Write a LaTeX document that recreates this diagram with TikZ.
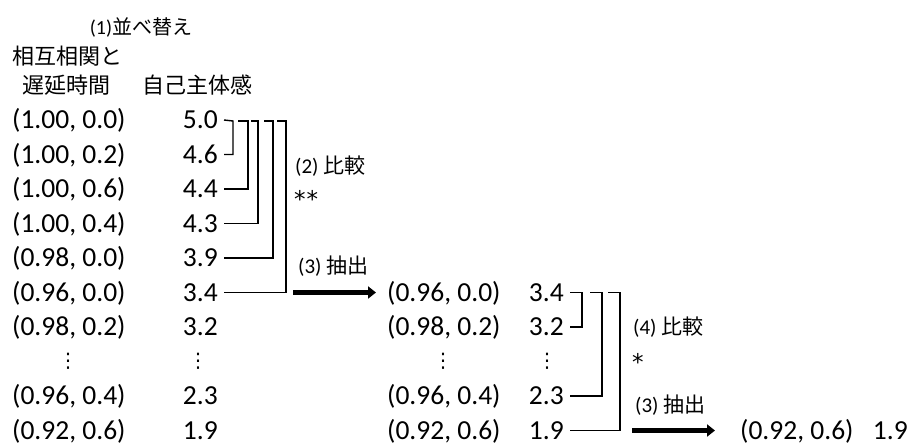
\documentclass[tikz,border=0pt]{standalone}
\usepackage{fontspec}
\setmainfont{Carlito}
\newfontfamily\jp{Noto Sans CJK JP}
\newfontfamily\dv{DejaVu Sans}
\usetikzlibrary{arrows.meta,calc}
\begin{document}
\begin{tikzpicture}[x=1pt,y=-1pt,
  num/.style={font=\fontsize{27.5}{30}\selectfont, inner sep=0pt, text height=17pt, text depth=0pt},
  lab/.style={font=\fontsize{21}{23}\selectfont, inner sep=0pt, anchor=west},
  star/.style={font=\dv\fontsize{23}{25}\selectfont, inner sep=0pt, anchor=north west},
  hdr/.style={font=\jp\fontsize{22}{24}\selectfont, inner sep=0pt, anchor=west},
  vdot/.style={font=\dv\fontsize{20}{22}\selectfont, inner sep=0pt},
  br/.style={line width=1.4pt},
  bigarrow/.style={line width=4.5pt, -{Triangle[length=8pt,width=12pt]}}]
\useasboundingbox (0,0) rectangle (920,445);
% headers
\node[lab, anchor=center, font=\fontsize{20}{22}\selectfont] (h1) at (141,27) {(1){\jp 並べ替え}};
\node[hdr] (h2) at (12,56) {相互相関と};
\node[hdr] (h3) at (22,85) {遅延時間};
\node[hdr] (h4) at (142,85) {自己主体感};
% first block
\node[num, anchor=west] (a0) at (12,120) {(1.00, 0.0)};
\node[num, anchor=west] (a1) at (12,154.5) {(1.00, 0.2)};
\node[num, anchor=west] (a2) at (12,189) {(1.00, 0.6)};
\node[num, anchor=west] (a3) at (12,223.5) {(1.00, 0.4)};
\node[num, anchor=west] (a4) at (12,258) {(0.98, 0.0)};
\node[num, anchor=west] (a5) at (12,292.5) {(0.96, 0.0)};
\node[num, anchor=west] (a6) at (12,327) {(0.98, 0.2)};
\node[vdot] (a7) at (68,361.5) {⋮};
\node[num, anchor=west] (a8) at (12,396) {(0.96, 0.4)};
\node[num, anchor=west] (a9) at (12,430.5) {(0.92, 0.6)};
\node[num, anchor=east] (v0) at (218,120) {5.0};
\node[num, anchor=east] (v1) at (218,154.5) {4.6};
\node[num, anchor=east] (v2) at (218,189) {4.4};
\node[num, anchor=east] (v3) at (218,223.5) {4.3};
\node[num, anchor=east] (v4) at (218,258) {3.9};
\node[num, anchor=east] (v5) at (218,292.5) {3.4};
\node[num, anchor=east] (v6) at (218,327) {3.2};
\node[vdot] (v7) at (198,361.5) {⋮};
\node[num, anchor=east] (v8) at (218,396) {2.3};
\node[num, anchor=east] (v9) at (218,430.5) {1.9};
% brackets first block
\coordinate (b1) at (233,121);
\coordinate (b2) at (248,121);
\coordinate (b3) at (258,121);
\coordinate (b4) at (273,121);
\coordinate (b5) at (286,121);
\coordinate (t2) at (238,121);
\coordinate (t3) at (251,121);
\coordinate (t4) at (264,121);
\coordinate (t5) at (277,121);
\draw[br] ([xshift=6pt]v0.east) -- (b1) |- ([xshift=6pt]v1.east);
\draw[br] (t2) -- (b2) |- ([xshift=6pt]v2.east);
\draw[br] (t3) -- (b3) |- ([xshift=6pt]v3.east);
\draw[br] (t4) -- (b4) |- ([xshift=6pt]v4.east);
\draw[br] (t5) -- (b5) |- ([xshift=6pt]v5.east);
% labels first block
\node[lab] (l2) at (295,166) {(2)\hspace{5pt}{\jp 比較}};
\node[star] (st2) at (294,190) {*\hspace{1pt}*};
\node[lab] (l3) at (298,266) {(3)\hspace{5pt}{\jp 抽出}};
% second block
\node[num, anchor=west] (w5) at (387,292.5) {(0.96, 0.0)};
\node[num, anchor=west] (w6) at (387,327) {(0.98, 0.2)};
\node[vdot] (w7) at (443,361.5) {⋮};
\node[num, anchor=west] (w8) at (387,396) {(0.96, 0.4)};
\node[num, anchor=west] (w9) at (387,430.5) {(0.92, 0.6)};
\node[num, anchor=east] (u5) at (564,292.5) {3.4};
\node[num, anchor=east] (u6) at (564,327) {3.2};
\node[vdot] (u7) at (547,361.5) {⋮};
\node[num, anchor=east] (u8) at (564,396) {2.3};
\node[num, anchor=east] (u9) at (564,430.5) {1.9};
\coordinate (ar1) at (293,292.5);
\draw[bigarrow] (ar1) -- ([xshift=-11pt]w5.west);
% brackets second block
\coordinate (c1) at (582,292.5);
\coordinate (c2) at (602,292.5);
\coordinate (c3) at (620,292.5);
\coordinate (s2) at (590,292.5);
\coordinate (s3) at (608,292.5);
\draw[br] ([xshift=6pt]u5.east) -- (c1) |- ([xshift=6pt]u6.east);
\draw[br] (s2) -- (c2) |- ([xshift=6pt]u8.east);
\draw[br] (s3) -- (c3) |- ([xshift=6pt]u9.east);
% labels second block
\node[lab] (l4) at (633,327) {(4)\hspace{5pt}{\jp 比較}};
\node[star] (st4) at (632,353) {*};
\node[lab] (l5) at (635,405) {(3)\hspace{5pt}{\jp 抽出}};
% result
\node[num, anchor=west] (f) at (740,430.5) {(0.92, 0.6)};
\node[num, anchor=east] (g) at (908,430.5) {1.9};
\coordinate (ar2) at (632,430.5);
\draw[bigarrow] (ar2) -- ([xshift=-25pt]f.west);
\end{tikzpicture}
\end{document}
